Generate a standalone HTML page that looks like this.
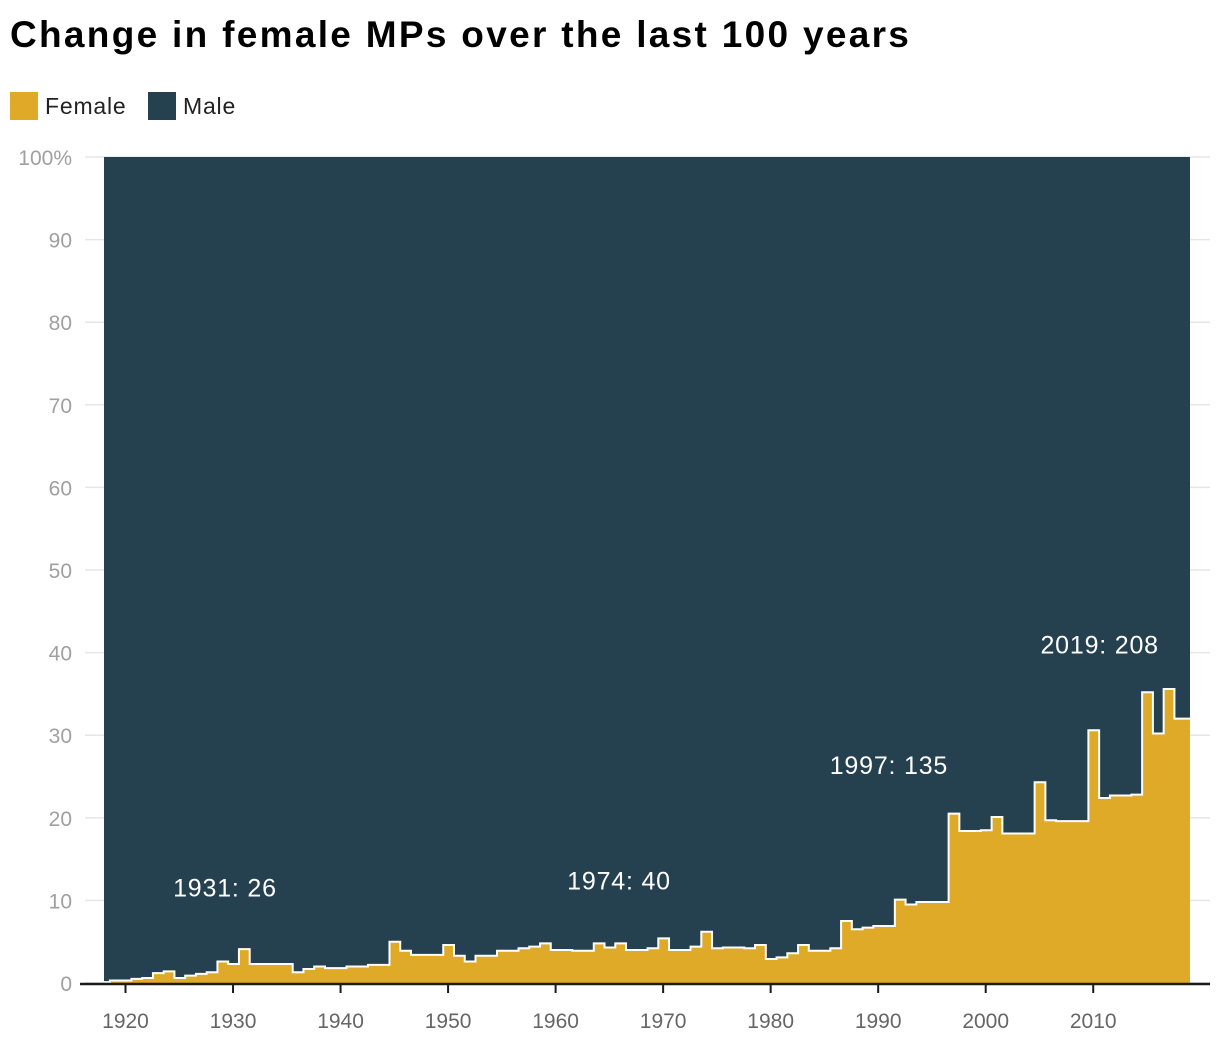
<!DOCTYPE html>
<html><head><meta charset="utf-8"><style>
body{margin:0;background:#fff;font-family:"Liberation Sans",sans-serif;}
#wrap{position:relative;width:1220px;height:1044px;overflow:hidden;}
h1{position:absolute;left:10px;top:14px;margin:0;font-size:37px;font-weight:bold;color:#000;letter-spacing:2.3px;white-space:nowrap;}
.leg{position:absolute;top:92px;height:28px;display:flex;align-items:center;font-size:23px;color:#222;letter-spacing:0.8px;}
.sw{width:28px;height:28px;margin-right:7px;}
</style></head><body>
<div id="wrap">
<h1>Change in female MPs over the last 100 years</h1>
<div class="leg" style="left:10px"><div class="sw" style="background:#e0aa29"></div>Female</div>
<div class="leg" style="left:148px"><div class="sw" style="background:#25404f"></div>Male</div>
<svg id="svg" width="1220" height="1044" style="position:absolute;left:0;top:0"></svg>
</div>
<script>
const startYear = 1918;
const endYear = 2019;
const femaleValues = [0.1,0.3,0.3,0.5,0.6,1.2,1.4,0.6,0.9,1.1,1.3,2.6,2.3,4.1,2.3,2.3,2.3,2.3,1.3,1.7,2.0,1.8,1.8,2.0,2.0,2.2,2.2,5.0,3.9,3.4,3.4,3.4,4.6,3.3,2.6,3.3,3.3,3.9,3.9,4.2,4.4,4.8,4.0,4.0,3.9,3.9,4.8,4.3,4.8,4.0,4.0,4.2,5.4,4.0,4.0,4.4,6.2,4.2,4.3,4.3,4.2,4.6,2.9,3.1,3.6,4.6,3.9,3.9,4.2,7.5,6.5,6.7,6.9,6.9,10.1,9.5,9.8,9.8,9.8,20.5,18.4,18.4,18.5,20.1,18.1,18.1,18.1,24.3,19.7,19.6,19.6,19.6,30.6,22.4,22.7,22.7,22.8,35.2,30.2,35.6,32.0];
const yTicks = [0,10,20,30,40,50,60,70,80,90,100];
const xTicks = [1920,1930,1940,1950,1960,1970,1980,1990,2000,2010];
const annotations = [["1931: 26",1929.25,10.5],["1974: 40",1965.9,11.3],["1997: 135",1991.0,25.3],["2019: 208",2010.6,39.9]];
const stepOffset = -0.45;
const L=104,R=1190,T=157,B=983;
const x=v=>L+(v-startYear)/(endYear-startYear)*(R-L);
const y=v=>B-v/100*(B-T);
const cx=v=>x(Math.max(startYear,Math.min(endYear,v)));
const svg=document.getElementById('svg');
const NS='http://www.w3.org/2000/svg';
function mk(t,a){const e=document.createElementNS(NS,t);for(const k in a)e.setAttribute(k,a[k]);svg.appendChild(e);return e;}
yTicks.forEach(t=>{
  const g=mk('line',{x1:85,x2:1210,y1:y(t),y2:y(t),stroke:'#e6e6e6','stroke-width':1.5});
  
  
  const tx=mk('text',{x:72,y:y(t)+8,'text-anchor':'end','font-size':21,fill:'#a0a0a0','font-family':'Liberation Sans'});
  tx.textContent=t===100?'100%':t;
  
  
});
const male=mk('rect',{x:L,y:T,width:R-L,height:B-T,fill:'#25404f'});


let d='M'+x(startYear)+','+B;
let ld='';
femaleValues.forEach((v,i)=>{
  const a=cx(startYear+i+stepOffset), b=(i===femaleValues.length-1)?x(endYear):cx(startYear+i+1+stepOffset);
  d+=' L'+a+','+y(v)+' L'+b+','+y(v);
  ld+=(i?' L':'M')+a+','+y(v)+' L'+b+','+y(v);
});
d+=' L'+x(endYear)+','+B+' Z';
const fem=mk('path',{d:d,fill:'#e0aa29',stroke:'none'});


const ln=mk('path',{d:ld,fill:'none',stroke:'#fff','stroke-width':2});


const ax=mk('line',{x1:80,x2:1210,y1:B+1,y2:B+1,stroke:'#1a1a1a','stroke-width':2.5});


xTicks.forEach(t=>{
  const tk=mk('line',{x1:x(t),x2:x(t),y1:B,y2:B+10,stroke:'#1a1a1a','stroke-width':2});
  
  
  const tx=mk('text',{x:x(t),y:1028,'text-anchor':'middle','font-size':21,fill:'#666','font-family':'Liberation Sans'});
  tx.textContent=t;
  
  
});
annotations.forEach(a=>{
  const tx=mk('text',{x:x(a[1]),y:y(a[2]),'text-anchor':'middle','font-size':25,fill:'#fff','font-family':'Liberation Sans','letter-spacing':'0.8'});
  tx.textContent=a[0];
  
  
});
</script>
</body></html>
